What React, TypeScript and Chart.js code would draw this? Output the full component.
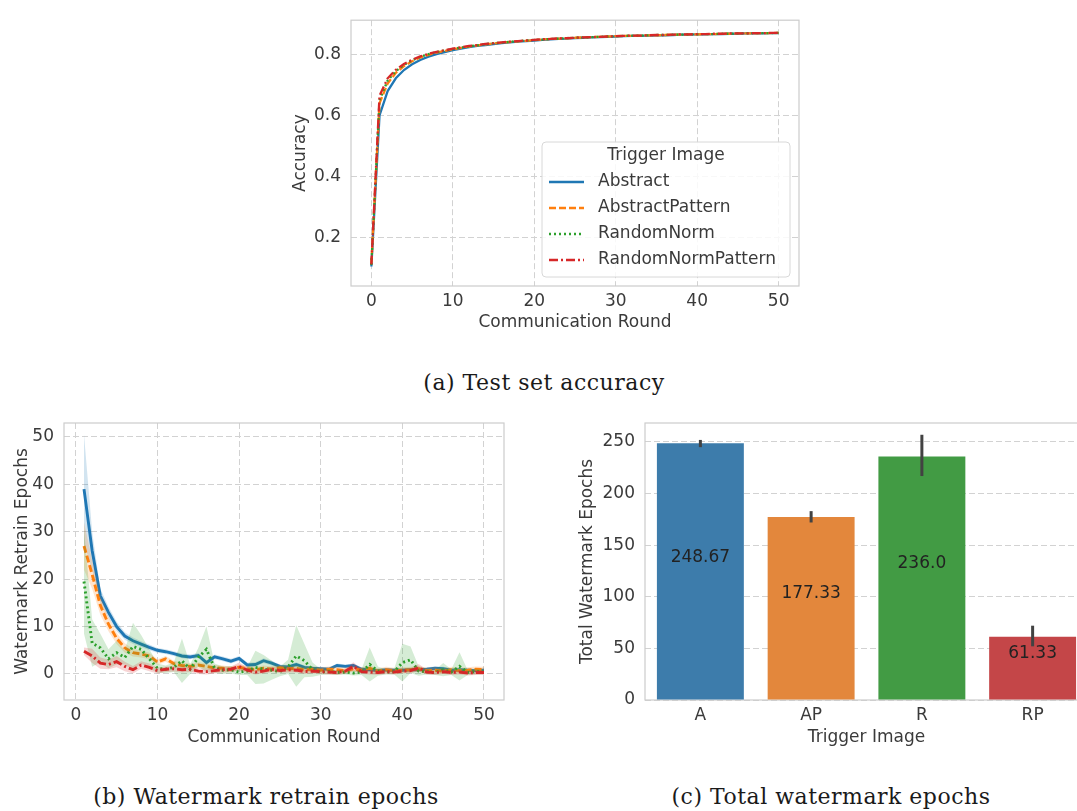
import React, { useEffect, useRef } from "react";
import { Chart, registerables } from "chart.js";
Chart.register(...registerables);

// ---------- shared series info ----------
const SERIES_NAMES = ["Abstract", "AbstractPattern", "RandomNorm", "RandomNormPattern"];
const SERIES_COLORS = ["#1f77b4", "#ff7f0e", "#2ca02c", "#d62728"];
const SERIES_FILLS = ["rgba(31,119,180,0.2)", "rgba(255,127,14,0.2)", "rgba(44,160,44,0.2)", "rgba(214,39,40,0.2)"];
const SERIES_DASHES = [[], [7, 3], [2, 3], [9, 3, 2, 3]];
const LEGEND_TITLE = "Trigger Image";

// ---------- (a) test set accuracy, rounds 0..50 ----------
const accAbstract = [0.105, 0.600, 0.680, 0.722, 0.749, 0.768, 0.782, 0.793, 0.801, 0.808, 0.814, 0.819, 0.824, 0.828, 0.831, 0.834, 0.837, 0.840, 0.842, 0.844, 0.846, 0.848, 0.850, 0.851, 0.852, 0.854, 0.855, 0.856, 0.857, 0.858, 0.859, 0.860, 0.861, 0.861, 0.862, 0.863, 0.863, 0.864, 0.865, 0.865, 0.866, 0.866, 0.867, 0.867, 0.868, 0.868, 0.869, 0.869, 0.869, 0.870, 0.870];
const accAbstractPattern = [0.115, 0.640, 0.705, 0.740, 0.762, 0.778, 0.790, 0.799, 0.806, 0.812, 0.817, 0.822, 0.826, 0.830, 0.833, 0.836, 0.839, 0.841, 0.843, 0.845, 0.847, 0.849, 0.851, 0.852, 0.853, 0.855, 0.856, 0.857, 0.858, 0.859, 0.860, 0.861, 0.861, 0.862, 0.863, 0.863, 0.864, 0.865, 0.865, 0.866, 0.866, 0.867, 0.867, 0.868, 0.868, 0.869, 0.869, 0.869, 0.870, 0.870, 0.871];
const accRandomNorm = [0.110, 0.650, 0.715, 0.745, 0.766, 0.781, 0.792, 0.801, 0.808, 0.813, 0.818, 0.823, 0.827, 0.830, 0.834, 0.837, 0.839, 0.842, 0.844, 0.846, 0.848, 0.849, 0.851, 0.852, 0.854, 0.855, 0.856, 0.857, 0.858, 0.859, 0.860, 0.861, 0.862, 0.862, 0.863, 0.864, 0.864, 0.865, 0.865, 0.866, 0.866, 0.867, 0.867, 0.868, 0.868, 0.869, 0.869, 0.870, 0.870, 0.870, 0.871];
const accRandomNormPattern = [0.112, 0.665, 0.722, 0.750, 0.769, 0.783, 0.794, 0.802, 0.809, 0.814, 0.819, 0.824, 0.828, 0.831, 0.835, 0.837, 0.840, 0.842, 0.844, 0.846, 0.848, 0.850, 0.851, 0.853, 0.854, 0.855, 0.856, 0.857, 0.858, 0.859, 0.860, 0.861, 0.862, 0.862, 0.863, 0.864, 0.864, 0.865, 0.866, 0.866, 0.867, 0.867, 0.868, 0.868, 0.869, 0.869, 0.869, 0.870, 0.870, 0.871, 0.871];
const ACC_X_TICKS = [0, 10, 20, 30, 40, 50];
const ACC_Y_TICKS = [0.2, 0.4, 0.6, 0.8];
const ACC_X_RANGE = [-2.5, 52.5];
const ACC_Y_RANGE = [0.041, 0.9125];

// ---------- (b) watermark retrain epochs, rounds 1..50 ----------
const wmAbstract = [39, 26, 16.5, 13, 10, 8, 7, 6.3, 5.6, 5, 4.7, 4.3, 3.8, 3.6, 3.9, 2.4, 3.6, 3.2, 2.7, 3.3, 1.9, 2.0, 2.8, 2.3, 1.6, 1.5, 2.0, 1.4, 1.2, 1.1, 1.0, 1.8, 1.6, 1.8, 1.0, 0.9, 0.7, 0.9, 0.8, 0.8, 0.9, 0.9, 1.0, 1.2, 1.1, 0.8, 0.9, 0.8, 0.7, 0.8];
const wmAbstractCi = [11.5, 4, 1.5, 1.2, 1, 0.8, 0.7, 0.6, 0.6, 0.5, 0.5, 0.5, 0.5, 0.5, 0.5, 0.5, 0.5, 0.5, 0.5, 0.5, 0.5, 0.5, 0.5, 0.5, 0.4, 0.4, 0.5, 0.4, 0.4, 0.4, 0.4, 0.4, 0.4, 0.4, 0.4, 0.4, 0.4, 0.4, 0.4, 0.4, 0.4, 0.4, 0.4, 0.4, 0.4, 0.4, 0.4, 0.4, 0.4, 0.5];
const wmAbstractPattern = [27, 21, 14.5, 10.5, 7.5, 5.5, 4.5, 4.2, 3.8, 2.5, 3.2, 2.2, 1.8, 1.6, 1.9, 1.6, 1.3, 1.2, 1.0, 1.4, 1.1, 0.9, 1.2, 1.0, 1.3, 1.1, 1.2, 0.9, 1.0, 0.8, 1.0, 0.9, 0.7, 1.1, 0.8, 1.2, 0.6, 0.9, 0.7, 0.8, 0.9, 1.1, 0.7, 0.8, 0.6, 0.9, 0.7, 0.8, 1.0, 0.9];
const wmAbstractPatternCi = [5, 3, 2, 1.5, 1.2, 1, 0.8, 0.7, 0.7, 0.6, 0.6, 0.6, 0.6, 0.6, 0.6, 0.6, 0.6, 0.6, 0.6, 0.6, 0.6, 0.6, 0.6, 0.6, 0.6, 0.6, 0.6, 0.6, 0.6, 0.6, 0.6, 0.6, 0.6, 0.6, 0.6, 0.6, 0.6, 0.6, 0.6, 0.6, 0.6, 0.6, 0.6, 0.6, 0.6, 0.6, 0.6, 0.6, 0.6, 0.6];
const wmRandomNorm = [19.5, 6.5, 5.5, 3.2, 4.5, 3.5, 5.8, 5.2, 3.2, 1.2, 1.0, 1.4, 2.8, 1.0, 3.5, 5.2, 1.2, 0.8, 0.9, 0.4, 0.6, 1.4, 1.0, 0.8, 0.5, 1.5, 3.8, 2.8, 0.9, 0.4, 0.5, 0.3, 0.4, 0.2, 0.4, 2.0, 0.6, 0.4, 0.5, 2.4, 3.0, 0.6, 0.5, 0.3, 0.9, 0.4, 1.6, 0.3, 0.5, 0.4];
const wmRandomNormCi = [11, 5, 3, 2, 2.5, 1.5, 5, 3, 2, 1, 0.8, 1, 4.7, 1, 2, 4.8, 1, 0.8, 0.8, 0.6, 0.8, 3.5, 3, 2, 1, 1.5, 6.5, 3.5, 1.5, 0.6, 0.6, 0.5, 0.5, 0.5, 0.6, 3.6, 1, 0.5, 0.6, 4, 2.8, 1, 0.6, 0.5, 1.4, 0.6, 3, 0.5, 0.6, 0.5];
const wmRandomNormPattern = [4.8, 3.8, 2.3, 2.0, 2.6, 1.6, 0.9, 1.9, 1.4, 0.7, 1.0, 1.1, 0.9, 1.0, 0.6, 0.5, 0.7, 0.9, 1.0, 1.6, 0.8, 0.4, 0.6, 1.0, 0.7, 0.9, 0.8, 0.5, 0.6, 0.5, 0.4, 0.3, 0.6, 1.6, 0.5, 0.4, 0.3, 0.5, 0.4, 0.6, 0.7, 1.3, 0.4, 0.3, 0.5, 0.3, 0.4, 0.2, 0.3, 0.3];
const wmRandomNormPatternCi = [0.8, 1.5, 1.2, 1, 1.2, 1, 0.8, 0.8, 0.8, 0.6, 0.6, 0.6, 0.6, 0.6, 0.6, 0.6, 0.6, 0.6, 0.6, 0.8, 0.6, 0.5, 0.5, 0.6, 0.5, 0.6, 0.5, 0.5, 0.5, 0.5, 0.5, 0.5, 0.5, 0.9, 0.5, 0.5, 0.5, 0.5, 0.5, 0.5, 0.5, 0.8, 0.5, 0.5, 0.5, 0.5, 0.5, 0.5, 0.5, 0.5];
const WM_X_TICKS = [0, 10, 20, 30, 40, 50];
const WM_Y_TICKS = [0, 10, 20, 30, 40, 50];
const WM_X_RANGE = [-1.45, 52.45];
const WM_Y_RANGE = [-5.49, 52.95];

// ---------- (c) total watermark epochs ----------
const totalCategories = ["A", "AP", "R", "RP"];
const totalValues = [248.67, 177.33, 236.0, 61.33];
const totalLabels = ["248.67", "177.33", "236.0", "61.33"];
const totalErrLow = [245, 172, 217, 52];
const totalErrHigh = [252, 183, 257, 72];
const totalColors = ["#3d7cab", "#e3873c", "#429b44", "#c44648"];
const TOTAL_Y_TICKS = [0, 50, 100, 150, 200, 250];
const TOTAL_Y_RANGE = [0, 268.4];

// ---------- styling ----------
const FONT = { family: "'DejaVu Sans', sans-serif", size: 17 };
const TEXT = "#3a3a3a";
const GRID = "#d2d2d2";
const FRAME = "#cccccc";

const framePlugin = {
  id: "frame",
  beforeDatasetsDraw(chart: any) {
    const { ctx, chartArea: a } = chart;
    ctx.save();
    ctx.strokeStyle = FRAME;
    ctx.lineWidth = 1.2;
    ctx.strokeRect(a.left, a.top, a.right - a.left, a.bottom - a.top);
    ctx.restore();
  },
};

function linAxis(range: number[], ticks: number[], title: string, horizontal: boolean, size: number, titlePad: any, fmt: (v: number) => string, showGrid = true) {
  return {
    type: "linear",
    min: range[0],
    max: range[1],
    afterBuildTicks: (s: any) => {
      s.ticks = ticks.map((v) => ({ value: v }));
    },
    afterFit: (s: any) => {
      if (horizontal) s.height = size;
      else s.width = size;
    },
    ticks: { font: FONT, color: TEXT, padding: horizontal ? 5 : 10, callback: (v: any) => fmt(Number(v)), maxRotation: 0, autoSkip: false },
    grid: { display: showGrid, color: GRID, lineWidth: 1, drawTicks: false },
    border: { display: false, dash: [6, 3] },
    title: { display: true, text: title, font: FONT, color: TEXT, padding: titlePad },
  };
}

// ---------- chart configs ----------
function makeAccConfig() {
  const series = [accAbstract, accAbstractPattern, accRandomNorm, accRandomNormPattern];
  const datasets = series.map((vals, k) => ({
    label: SERIES_NAMES[k],
    data: vals.map((y, i) => ({ x: i, y })),
    borderColor: SERIES_COLORS[k],
    borderDash: SERIES_DASHES[k],
    borderWidth: 2.3,
    pointRadius: 0,
    fill: false,
    tension: 0,
    order: 10 - k,
  }));
  const legendPlugin = {
    id: "accLegend",
    afterDatasetsDraw(chart: any) {
      const { ctx, chartArea: a } = chart;
      const w = 248, h = 135;
      const x0 = a.right - 9 - w, y0 = a.bottom - 9 - h;
      ctx.save();
      ctx.beginPath();
      if (ctx.roundRect) ctx.roundRect(x0, y0, w, h, 4);
      else ctx.rect(x0, y0, w, h);
      ctx.fillStyle = "rgba(255,255,255,0.85)";
      ctx.fill();
      ctx.strokeStyle = "#d8d8d8";
      ctx.lineWidth = 1;
      ctx.stroke();
      ctx.font = `17px ${FONT.family}`;
      ctx.fillStyle = TEXT;
      ctx.textAlign = "center";
      ctx.textBaseline = "middle";
      ctx.fillText(LEGEND_TITLE, x0 + w / 2, y0 + 14);
      SERIES_NAMES.forEach((name, k) => {
        const y = y0 + 40 + 26 * k;
        ctx.beginPath();
        ctx.setLineDash(SERIES_DASHES[k]);
        ctx.strokeStyle = SERIES_COLORS[k];
        ctx.lineWidth = 2.4;
        ctx.moveTo(x0 + 7, y);
        ctx.lineTo(x0 + 42, y);
        ctx.stroke();
        ctx.setLineDash([]);
        ctx.textAlign = "left";
        ctx.fillStyle = TEXT;
        ctx.fillText(name, x0 + 56, y);
      });
      ctx.restore();
    },
  };
  return {
    type: "line",
    data: { datasets },
    options: {
      animation: false,
      responsive: false,
      layout: { padding: { top: 8, right: 11, left: 0, bottom: 0 } },
      plugins: { legend: { display: false }, tooltip: { enabled: false } },
      scales: {
        x: linAxis(ACC_X_RANGE, ACC_X_TICKS, "Communication Round", true, 54, { top: 0, bottom: 7 }, (v) => String(v)),
        y: linAxis(ACC_Y_RANGE, ACC_Y_TICKS, "Accuracy", false, 81, { top: 20, bottom: 0 }, (v) => v.toFixed(1)),
      },
    },
    plugins: [framePlugin, legendPlugin],
  };
}

function makeWmConfig() {
  const means = [wmAbstract, wmAbstractPattern, wmRandomNorm, wmRandomNormPattern];
  const cis = [wmAbstractCi, wmAbstractPatternCi, wmRandomNormCi, wmRandomNormPatternCi];
  const datasets: any[] = [];
  means.forEach((vals, k) => {
    const base = 100 - 10 * k;
    datasets.push({
      label: SERIES_NAMES[k] + " lo",
      data: vals.map((y, i) => ({ x: i + 1, y: y - cis[k][i] })),
      borderWidth: 0,
      borderColor: "rgba(0,0,0,0)",
      pointRadius: 0,
      fill: false,
      order: base + 2,
    });
    datasets.push({
      label: SERIES_NAMES[k] + " hi",
      data: vals.map((y, i) => ({ x: i + 1, y: y + cis[k][i] })),
      borderWidth: 0,
      borderColor: "rgba(0,0,0,0)",
      backgroundColor: SERIES_FILLS[k],
      pointRadius: 0,
      fill: "-1",
      order: base + 1,
    });
    datasets.push({
      label: SERIES_NAMES[k],
      data: vals.map((y, i) => ({ x: i + 1, y })),
      borderColor: SERIES_COLORS[k],
      borderDash: SERIES_DASHES[k],
      borderWidth: 2.9,
      pointRadius: 0,
      fill: false,
      order: base,
    });
  });
  return {
    type: "line",
    data: { datasets },
    options: {
      animation: false,
      responsive: false,
      layout: { padding: { top: 23, right: 16, left: 0, bottom: 0 } },
      plugins: { legend: { display: false }, tooltip: { enabled: false } },
      scales: {
        x: linAxis(WM_X_RANGE, WM_X_TICKS, "Communication Round", true, 60, { top: 0, bottom: 12 }, (v) => String(v)),
        y: linAxis(WM_Y_RANGE, WM_Y_TICKS, "Watermark Retrain Epochs", false, 64, { top: 12, bottom: 0 }, (v) => String(v)),
      },
    },
    plugins: [framePlugin],
  };
}

function makeTotalConfig() {
  const overlay = {
    id: "barExtras",
    afterDatasetsDraw(chart: any) {
      const { ctx } = chart;
      const meta = chart.getDatasetMeta(0);
      const ys = chart.scales.y;
      ctx.save();
      ctx.font = `17px ${FONT.family}`;
      ctx.fillStyle = "#222222";
      ctx.textAlign = "center";
      ctx.textBaseline = "middle";
      meta.data.forEach((bar: any, i: number) => {
        const yMid = ys.getPixelForValue(totalValues[i] / 2);
        ctx.fillText(totalLabels[i], bar.x, yMid - 14.5);
      });
      ctx.strokeStyle = "#424242";
      ctx.lineWidth = 3;
      meta.data.forEach((bar: any, i: number) => {
        ctx.beginPath();
        ctx.moveTo(bar.x, ys.getPixelForValue(totalErrLow[i]));
        ctx.lineTo(bar.x, ys.getPixelForValue(totalErrHigh[i]));
        ctx.stroke();
      });
      ctx.restore();
    },
  };
  return {
    type: "bar",
    data: {
      labels: totalCategories,
      datasets: [
        {
          label: "Total",
          data: totalValues,
          backgroundColor: totalColors,
          borderWidth: 0,
          barPercentage: 0.785,
          categoryPercentage: 1,
        },
      ],
    },
    options: {
      animation: false,
      responsive: false,
      layout: { padding: { top: 23, right: 0, left: 0, bottom: 0 } },
      plugins: { legend: { display: false }, tooltip: { enabled: false } },
      scales: {
        x: {
          type: "category",
          offset: true,
          afterFit: (s: any) => {
            s.height = 60;
          },
          ticks: { font: FONT, color: TEXT, padding: 5, maxRotation: 0 },
          grid: { display: false, drawTicks: false },
          border: { display: false },
          title: { display: true, text: "Trigger Image", font: FONT, color: TEXT, padding: { top: 0, bottom: 12 } },
        },
        y: linAxis(TOTAL_Y_RANGE, TOTAL_Y_TICKS, "Total Watermark Epochs", false, 85, { top: 17, bottom: 0 }, (v) => String(v)),
      },
    },
    plugins: [framePlugin, overlay],
  };
}

function ChartCanvas({ left, top, width, height, make }: any) {
  const ref = useRef<HTMLCanvasElement>(null);
  useEffect(() => {
    const chart = new Chart(ref.current as HTMLCanvasElement, make());
    return () => chart.destroy();
  }, []);
  return (
    <canvas
      ref={ref}
      width={width}
      height={height}
      style={{ position: "absolute", left, top, width, height }}
    />
  );
}

const captionStyle: any = {
  position: "absolute",
  width: 460,
  textAlign: "center",
  fontFamily: "'DejaVu Serif', serif",
  fontSize: 22,
  letterSpacing: "0.5px",
  lineHeight: "26px",
  color: "#1a1a1a",
  whiteSpace: "nowrap",
};

export default function App() {
  return (
    <div
      style={{
        position: "fixed",
        left: 0,
        top: 0,
        width: 1077,
        height: 811,
        overflow: "hidden",
        background: "#ffffff",
      }}
    >
      <ChartCanvas left={270} top={0} width={540} height={340} make={makeAccConfig} />
      <ChartCanvas left={0} top={400} width={520} height={360} make={makeWmConfig} />
      <ChartCanvas left={560} top={400} width={528} height={360} make={makeTotalConfig} />
      <div style={{ ...captionStyle, left: 544 - 230, top: 383 - 13 }}>(a) Test set accuracy</div>
      <div style={{ ...captionStyle, left: 266 - 230, top: 797 - 13 }}>(b) Watermark retrain epochs</div>
      <div style={{ ...captionStyle, left: 831 - 230, top: 797 - 13 }}>(c) Total watermark epochs</div>
    </div>
  );
}
